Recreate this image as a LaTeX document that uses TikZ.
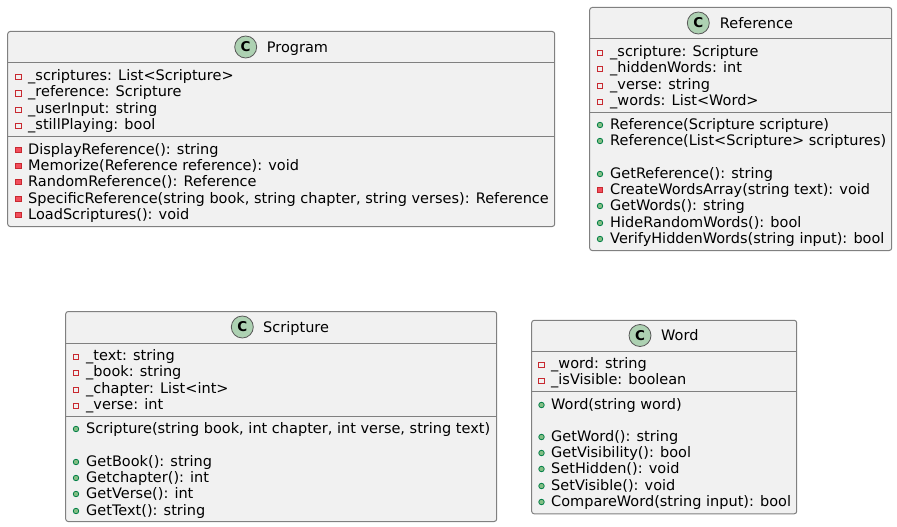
\documentclass[tikz,border=0pt]{standalone}
\usepackage{fontspec}
\setmainfont{DejaVu Sans}
\definecolor{boxfill}{RGB}{241,241,241}
\definecolor{boxline}{RGB}{128,128,128}
\definecolor{circfill}{RGB}{173,209,178}
\definecolor{privline}{RGB}{200,41,48}
\definecolor{privfill}{RGB}{242,77,92}
\definecolor{publine}{RGB}{3,128,72}
\definecolor{pubfill}{RGB}{132,190,132}
\begin{document}
\begin{tikzpicture}[x=1pt, y=-1pt,
					classbox/.style={draw=boxline, fill=boxfill, line width=1pt, rounded corners=2.5pt, inner sep=0pt, anchor=north west},
					sep/.style={draw=boxline, line width=1pt},
					badge/.style={draw=black!65, fill=circfill, line width=0.8pt, circle, minimum size=22pt, inner sep=0pt, font=\fontsize{13.5}{13.5}\selectfont\bfseries},
					title/.style={anchor=base west, inner sep=0pt, font=\fontsize{14.5}{16}\selectfont},
					member/.style={anchor=base west, inner sep=0pt, font=\fontsize{14.5}{16}\selectfont},
					privfield/.style={draw=privline, line width=0.8pt, minimum size=5.5pt, inner sep=0pt},
					privmeth/.style={draw=privline, fill=privfill, line width=0.8pt, minimum size=5.5pt, inner sep=0pt},
					pubmeth/.style={draw=publine, fill=pubfill, line width=0.8pt, circle, minimum size=5.5pt, inner sep=0pt}]
	\useasboundingbox (0,0) rectangle (897,527);

	% Program
	\node[classbox, minimum width=547pt, minimum height=195pt] (program) at (7.2,31) {};
	\draw[sep] (program.west |- 0,63) -- (program.east |- 0,63);
	\draw[sep] (program.west |- 0,136) -- (program.east |- 0,136);
	\node[badge] (programC) at (245.7,47) {C};
	\node[title] (programT) at (266.7,52.3) {Program};
	\foreach \i/\y/\t in {a/75/{\_scriptures: List<Scripture>}, b/91.5/{\_reference: Scripture}, c/108/{\_userInput: string}, d/124/{\_stillPlaying: bool}} {
		\node[privfield] (program\i m) at (18.5,\y+2) {};
		\node[member] (program\i) at (28,\y+5.2) {\t};
	}
	\foreach \i/\y/\t in {e/149/{DisplayReference(): string}, f/165/{Memorize(Reference reference): void}, g/181/{RandomReference(): Reference}, h/198/{SpecificReference(string book, string chapter, string verses): Reference}, k/214/{LoadScriptures(): void}} {
		\node[privmeth] (program\i m) at (18.5,\y+1) {};
		\node[member] (program\i) at (28,\y+5.2) {\t};
	}

	% Reference
	\node[classbox, minimum width=302pt, minimum height=243pt] (reference) at (589.2,7) {};
	\draw[sep] (reference.west |- 0,39) -- (reference.east |- 0,39);
	\draw[sep] (reference.west |- 0,112) -- (reference.east |- 0,112);
	\node[badge] (referenceC) at (698.3,23) {C};
	\node[title] (referenceT) at (719.7,28.3) {Reference};
	\foreach \i/\y/\t in {a/51/{\_scripture: Scripture}, b/67/{\_hiddenWords: int}, c/84/{\_verse: string}, d/100/{\_words: List<Word>}} {
		\node[privfield] (reference\i m) at (600,\y+2) {};
		\node[member] (reference\i) at (610,\y+5.2) {\t};
	}
	\foreach \i/\y/\t in {e/124/{Reference(Scripture scripture)}, f/140/{Reference(List<Scripture> scriptures)}, g/173/{GetReference(): string}, k/205/{GetWords(): string}, l/222/{HideRandomWords(): bool}, n/238/{VerifyHiddenWords(string input): bool}} {
		\node[pubmeth] (reference\i m) at (600,\y+1) {};
		\node[member] (reference\i) at (610,\y+5.2) {\t};
	}
	\node[privmeth] (referencehm) at (600,190) {};
	\node[member] (referenceh) at (610,194.2) {CreateWordsArray(string text): void};

	% Scripture
	\node[classbox, minimum width=431pt, minimum height=210pt] (scripture) at (65.2,311) {};
	\draw[sep] (scripture.west |- 0,343) -- (scripture.east |- 0,343);
	\draw[sep] (scripture.west |- 0,416) -- (scripture.east |- 0,416);
	\node[badge] (scriptureC) at (242.3,327) {C};
	\node[title] (scriptureT) at (263,332.3) {Scripture};
	\foreach \i/\y/\t in {a/355/{\_text: string}, b/371/{\_book: string}, c/388/{\_chapter: List<int>}, d/404/{\_verse: int}} {
		\node[privfield] (scripture\i m) at (76,\y+2) {};
		\node[member] (scripture\i) at (86,\y+5.2) {\t};
	}
	\foreach \i/\y/\t in {e/428/{Scripture(string book, int chapter, int verse, string text)}, f/461/{GetBook(): string}, g/477/{Getchapter(): int}, h/493/{GetVerse(): int}, k/510/{GetText(): string}} {
		\node[pubmeth] (scripture\i m) at (76,\y+1) {};
		\node[member] (scripture\i) at (86,\y+5.2) {\t};
	}

	% Word
	\node[classbox, minimum width=265pt, minimum height=193.5pt] (word) at (531.2,319.8) {};
	\draw[sep] (word.west |- 0,351.5) -- (word.east |- 0,351.5);
	\draw[sep] (word.west |- 0,391.5) -- (word.east |- 0,391.5);
	\node[badge] (wordC) at (640,335.5) {C};
	\node[title] (wordT) at (661,340.8) {Word};
	\foreach \i/\y/\t in {a/363/{\_word: string}, b/379/{\_isVisible: boolean}} {
		\node[privfield] (word\i m) at (541.5,\y+2) {};
		\node[member] (word\i) at (551,\y+5.2) {\t};
	}
	\foreach \i/\y/\t in {c/404/{Word(string word)}, d/436/{GetWord(): string}, e/452/{GetVisibility(): bool}, f/468/{SetHidden(): void}, g/485/{SetVisible(): void}, h/501/{CompareWord(string input): bool}} {
		\node[pubmeth] (word\i m) at (541.5,\y+1) {};
		\node[member] (word\i) at (551,\y+5.2) {\t};
	}
\end{tikzpicture}
\end{document}
